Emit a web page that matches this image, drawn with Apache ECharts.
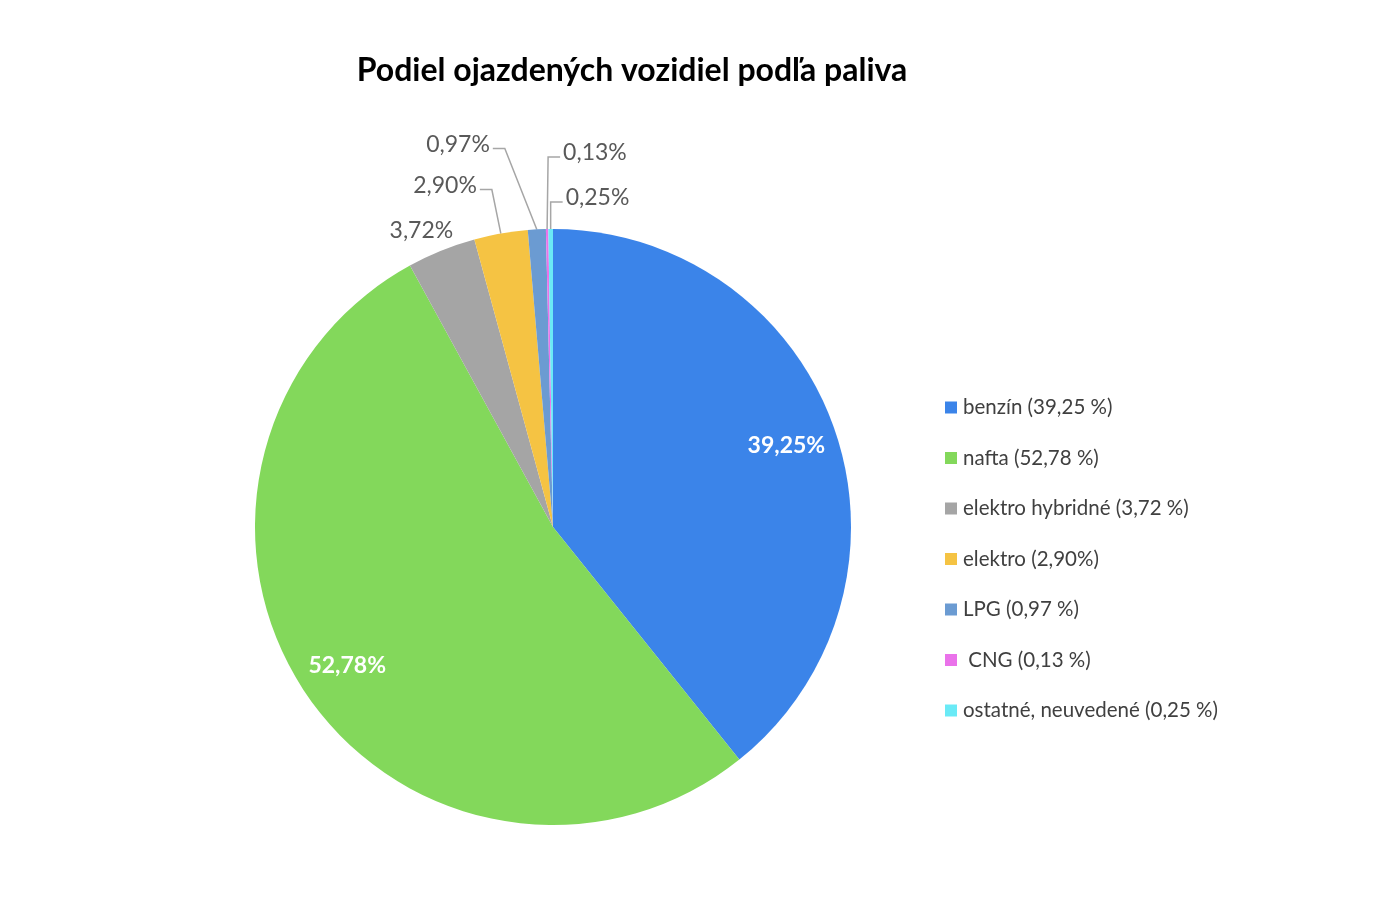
<!DOCTYPE html>
<html><head><meta charset="utf-8">
<script src="https://cdn.jsdelivr.net/npm/echarts@6/dist/echarts.min.js"></script>
<style>html,body{margin:0;padding:0;background:#fff}#c{width:1378px;height:906px}</style>
</head><body><div id="c"></div>
<script>
const titleText = 'Podiel ojazdených vozidiel podľa paliva';
const legendNames = ['benzín (39,25 %)', 'nafta (52,78 %)', 'elektro hybridné (3,72 %)', 'elektro (2,90%)', 'LPG (0,97 %)', ' CNG (0,13 %)', 'ostatné, neuvedené (0,25 %)'];
const shares = [39.25, 52.78, 3.72, 2.90, 0.97, 0.13, 0.25];
const colors = ['#3b84e9', '#83d85b', '#a5a5a5', '#f5c343', '#6b9bd2', '#ea72ea', '#6aeaf6'];

const CX = 553, CY = 527, R = 298;
const insideRatio = {0: 0.83, 1: 0.83};
const outsideLayout = {
  2: {center: [-20, -20]},
  3: {pts: [[-9, -44], [-21, -44]], align: 'right'},
  4: {pts: [[-32, -81], [-44, -81]], align: 'right'},
  5: {pts: [[1, -72], [13, -72]], align: 'left'},
  6: {pts: [[0, -27], [12, -27]], align: 'left'}
};

const total = shares.reduce((a, b) => a + b, 0);
const midAngles = [];
{ let acc = 0; shares.forEach(v => { midAngles.push((acc + v / 2) / total * 2 * Math.PI); acc += v; }); }
const fmt = v => v.toFixed(2).replace('.', ',') + '%';

const data = shares.map((v, i) => {
  const inside = insideRatio[i] !== undefined;
  return {
    name: legendNames[i], value: v,
    itemStyle: {color: colors[i]},
    label: inside ? {position: 'inside', color: '#fff', fontWeight: 'bold', fontSize: 23} : {position: 'outside'},
    labelLine: {show: !inside && !outsideLayout[i].center}
  };
});

const chart = echarts.init(document.getElementById('c'), null, {renderer: 'canvas'});
chart.setOption({
  animation: false,
  backgroundColor: '#fff',
  title: {
    text: titleText, left: 627, top: 50, textAlign: 'center',
    textStyle: {fontFamily: 'Lato', fontWeight: 'bold', fontSize: 32, color: '#000'}
  },
  legend: {
    orient: 'vertical', left: 940, top: 392,
    itemWidth: 12, itemHeight: 12, itemGap: 29.5,
    icon: 'rect',
    data: legendNames,
    textStyle: {fontFamily: 'Lato', fontSize: 20.5, color: '#404040', padding: [0, 0, 0, 1]}
  },
  series: [{
    type: 'pie',
    center: [CX, CY], radius: R,
    startAngle: 90, clockwise: true,
    data: data,
    label: {
      formatter: p => fmt(p.value),
      fontFamily: 'Lato', fontSize: 23, color: '#595959'
    },
    labelLine: {lineStyle: {color: '#a6a6a6', width: 1.5}},
    labelLayout: function (params) {
      const i = params.dataIndex;
      const a = midAngles[i];
      const s = Math.sin(a), c = Math.cos(a);
      if (insideRatio[i] !== undefined) {
        const k = insideRatio[i];
        return {x: CX + k * R * s, y: CY - k * R * c + 1, align: 'center', verticalAlign: 'middle'};
      }
      const P = [CX + R * s, CY - R * c];
      const o = outsideLayout[i];
      if (o.center) {
        return {x: P[0] + o.center[0], y: P[1] + o.center[1], align: 'center', verticalAlign: 'middle'};
      }
      const p1 = [P[0] + o.pts[0][0], P[1] + o.pts[0][1]];
      const p2 = [P[0] + o.pts[1][0], P[1] + o.pts[1][1]];
      const gap = o.align === 'right' ? -3 : 3;
      return {x: p2[0] + gap, y: p2[1] - 4, align: o.align, verticalAlign: 'middle', labelLinePoints: [P, p1, p2]};
    }
  }]
});
</script></body></html>
